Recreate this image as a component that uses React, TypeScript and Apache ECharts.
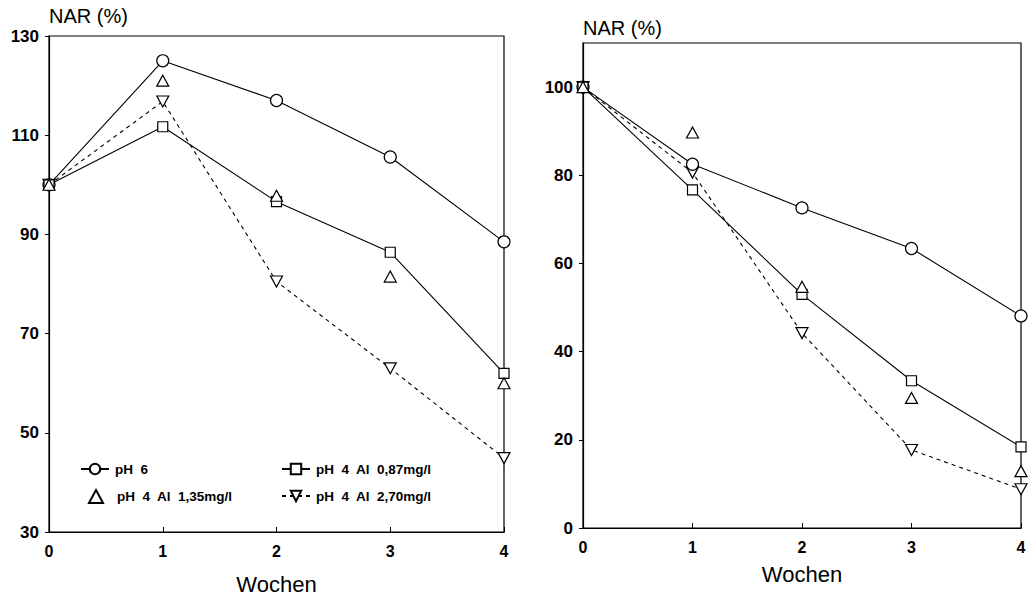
import React, { useEffect, useRef } from "react";
import * as echarts from "echarts";

const weeks = [0, 1, 2, 3, 4];
const seriesNames = ["pH 6", "pH 4 Al 0,87mg/l", "pH 4 Al 1,35mg/l", "pH 4 Al 2,70mg/l"];
const leftPH6 = [100, 125, 117, 105.6, 88.5];
const leftAl087 = [100, 111.7, 96.6, 86.4, 62];
const leftAl135 = [100, 121, 97.8, 81.5, 60];
const leftAl270 = [100, 116.8, 80.5, 63, 44.9];
const rightPH6 = [100, 82.5, 72.6, 63.4, 48.1];
const rightAl087 = [100, 76.7, 53, 33.4, 18.4];
const rightAl135 = [100, 89.7, 54.7, 29.5, 12.9];
const rightAl270 = [100, 80.6, 44.2, 17.7, 8.8];
const leftYTicks = [30, 50, 70, 90, 110, 130];
const rightYTicks = [0, 20, 40, 60, 80, 100];
const xTicks = [0, 1, 2, 3, 4];
const yTitle = "NAR (%)";
const xTitle = "Wochen";

const FONT = "'Liberation Sans', Arial, Helvetica, sans-serif";
const DOWN_TRI = "path://M0,0 L10,0 L5,9 Z";

function pts(vals: number[]) {
  return weeks.map((w, i) => [w, vals[i]]);
}

function makeSeries(idx: number, vals: number[][]) {
  const common = {
    xAxisIndex: idx,
    yAxisIndex: idx,
    animation: false,
    itemStyle: { color: "#fff", borderColor: "#000", borderWidth: 1.2, opacity: 1 },
    emphasis: { disabled: true },
  };
  return [
    {
      ...common,
      name: seriesNames[0],
      type: "line",
      data: pts(vals[0]),
      symbol: "circle",
      symbolSize: 12,
      lineStyle: { color: "#000", width: 1.1 },
      z: 3,
    },
    {
      ...common,
      name: seriesNames[1],
      type: "line",
      data: pts(vals[1]),
      symbol: "rect",
      symbolSize: 10,
      lineStyle: { color: "#000", width: 1.1 },
      z: 4,
    },
    {
      ...common,
      name: seriesNames[2],
      type: "scatter",
      data: pts(vals[2]),
      symbol: "triangle",
      symbolSize: [12, 11],
      z: 5,
    },
    {
      ...common,
      name: seriesNames[3],
      type: "line",
      data: pts(vals[3]),
      symbol: DOWN_TRI,
      symbolSize: [12, 11],
      lineStyle: { color: "#000", width: 1.1, type: [4, 4] },
      z: 2,
    },
  ];
}

function xAxis(gridIndex: number, nameGap: number) {
  return {
    type: "value",
    gridIndex,
    min: 0,
    max: 4,
    name: xTitle,
    nameLocation: "middle",
    nameGap,
    nameTextStyle: { fontFamily: FONT, fontSize: 22, color: "#000" },
    axisLine: { show: true, lineStyle: { color: "#000", width: 1.2 } },
    axisTick: { show: true, inside: true, length: 5, customValues: xTicks, lineStyle: { color: "#000" } },
    axisLabel: {
      customValues: xTicks,
      margin: 11,
      fontFamily: FONT,
      fontSize: 16,
      fontWeight: "bold",
      color: "#000",
    },
    splitLine: { show: false },
  };
}

function yAxis(gridIndex: number, min: number, max: number, ticks: number[]) {
  return {
    type: "value",
    gridIndex,
    min,
    max,
    axisLine: { show: true, lineStyle: { color: "#000", width: 1.2 } },
    axisTick: { show: true, inside: false, length: 4, customValues: ticks, lineStyle: { color: "#000" } },
    axisLabel: {
      customValues: ticks,
      margin: 10,
      fontFamily: FONT,
      fontSize: 17,
      fontWeight: "bold",
      color: "#000",
    },
    splitLine: { show: false },
  };
}

function legend(name: string, left: number, top: number, itemWidth: number, pad: number) {
  return {
    data: [name],
    left,
    top,
    orient: "horizontal",
    itemWidth,
    itemHeight: 13,
    selectedMode: false,
    formatter: (n: string) => n.replace(/ /g, "  "),
    textStyle: {
      fontFamily: FONT,
      fontSize: 13.5,
      fontWeight: "bold",
      color: "#000",
      padding: [0, 0, 0, pad],
    },
  };
}

export default function App() {
  const ref = useRef<HTMLDivElement>(null);
  useEffect(() => {
    if (!ref.current) return;
    const chart = echarts.init(ref.current, undefined, { renderer: "svg" });
    chart.setOption({
      animation: false,
      backgroundColor: "#fff",
      grid: [
        { left: 49, right: 530, top: 36, bottom: 62, show: true, borderColor: "#000", borderWidth: 1.2, backgroundColor: "transparent" },
        { left: 583, right: 13, top: 43, bottom: 72, show: true, borderColor: "#000", borderWidth: 1.2, backgroundColor: "transparent" },
      ],
      xAxis: [xAxis(0, 41), xAxis(1, 35)],
      yAxis: [yAxis(0, 30, 130, leftYTicks), yAxis(1, 0, 110, rightYTicks)],
      legend: [
        legend(seriesNames[0], 75, 457, 28, 1),
        legend(seriesNames[1], 276, 457, 28, 1),
        legend(seriesNames[2], 83, 484, 14, 9),
        legend(seriesNames[3], 276, 484, 28, 1),
      ],
      graphic: [
        { type: "text", left: 49, top: 6, style: { text: yTitle, font: `20px ${FONT}`, fill: "#000" } },
        { type: "text", left: 583, top: 18, style: { text: yTitle, font: `20px ${FONT}`, fill: "#000" } },
      ],
      series: [
        ...makeSeries(0, [leftPH6, leftAl087, leftAl135, leftAl270]),
        ...makeSeries(1, [rightPH6, rightAl087, rightAl135, rightAl270]),
      ],
    });
    return () => chart.dispose();
  }, []);
  return <div ref={ref} style={{ width: 1034, height: 600, position: "absolute", left: 0, top: 0 }} />;
}
